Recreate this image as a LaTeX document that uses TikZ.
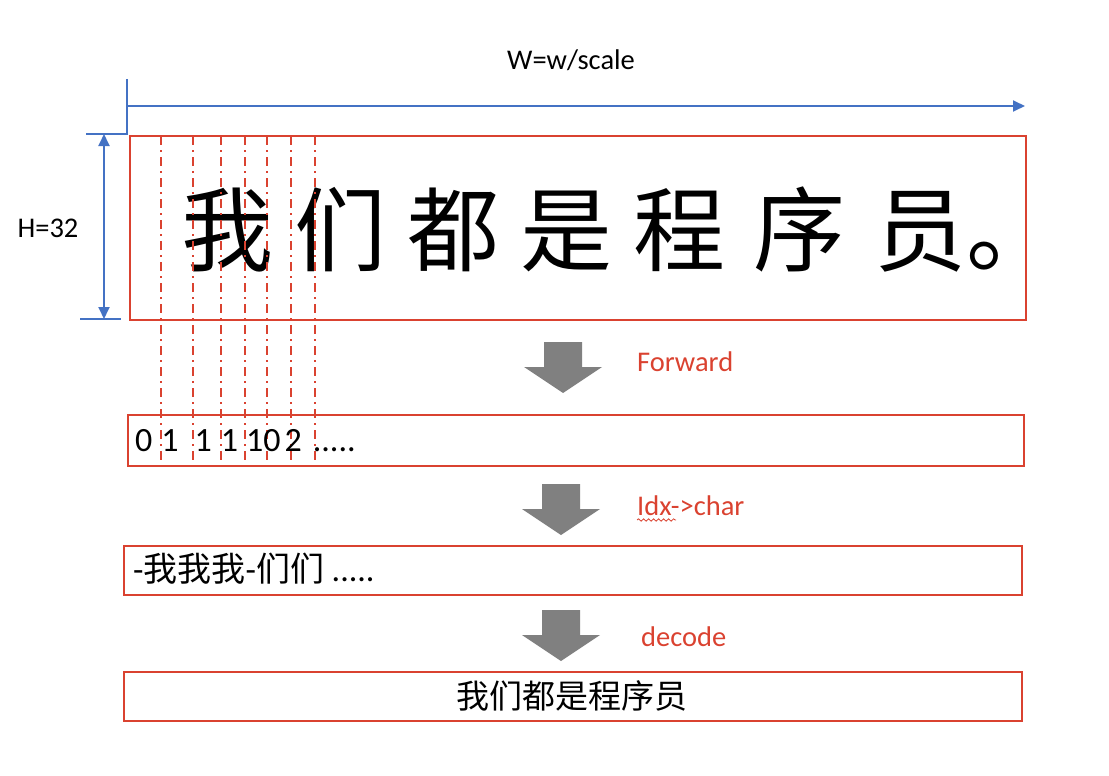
\documentclass[tikz,border=0pt]{standalone}
\usepackage{fontspec}
\setmainfont{Carlito}
\newfontfamily\cjk{Noto Sans CJK SC}
\usetikzlibrary{arrows.meta,decorations.pathmorphing}
\definecolor{myred}{RGB}{218,66,48}
\definecolor{myblue}{RGB}{68,114,196}
\definecolor{mygray}{RGB}{128,128,128}
\begin{document}
\begin{tikzpicture}[x=1pt,y=-1pt,
  redbox/.style={draw=myred,line width=1.8pt,inner sep=0pt,anchor=north west},
  blueline/.style={draw=myblue,line width=1.8pt},
  bluearrow/.style={blueline,-{Triangle[length=12pt,width=11pt]}},
  bluedouble/.style={blueline,{Triangle[length=12pt,width=11pt]}-{Triangle[length=12pt,width=11pt]}},
  guide/.style={draw=myred,line width=1.4pt,dash pattern=on 9pt off 5pt on 2pt off 5pt},
  lbl/.style={inner sep=0pt,font=\fontsize{28.5}{34}\selectfont},
  redlbl/.style={lbl,text=myred,anchor=west},
  boxtext/.style={inner sep=0pt,font=\fontsize{34}{40}\selectfont},
  downarr/.pic={\fill[mygray] (-19,0) -- (19,0) -- (19,25) -- (39,25) -- (0,51) -- (-39,25) -- (-19,25) -- cycle;}
]
\useasboundingbox (0,0) rectangle (1109,776);

% width / height marks
\coordinate (wtop) at (127,79);
\coordinate (wcorner) at (127,134);
\coordinate (wleft) at (86,134);
\coordinate (wstart) at (127,106);
\coordinate (wend) at (1025,106);
\coordinate (htop) at (104,134);
\coordinate (hbot) at (104,319);
\coordinate (hl) at (80,319);
\coordinate (hr) at (121,319);
\draw[blueline] (wtop) -- (wcorner) -- (wleft);
\draw[bluearrow] (wstart) -- (wend);
\draw[bluedouble] (htop) -- (hbot);
\draw[blueline] (hl) -- (hr);
\node[lbl] (wlabel) at (571,60) {W=w/scale};
\node[lbl] (hlabel) at (48,228) {H=32};

% boxes
\node[redbox,minimum width=896pt,minimum height=184pt] (img) at (129,135) {};
\node[redbox,minimum width=896pt,minimum height=51pt] (idx) at (127,414) {};
\node[redbox,minimum width=898pt,minimum height=49pt] (chars) at (123,545) {};
\node[redbox,minimum width=898pt,minimum height=49pt] (result) at (123,671) {};

% big sentence
\node[anchor=base west,inner sep=0pt,font={\fontsize{92}{110}\selectfont\cjk}] (sent) at (181,264)
  {我\kern21pt 们\kern21pt 都\kern21pt 是\kern21pt 程\kern28pt 序\kern29pt 员。};

% guide lines
\foreach \x in {161,193,221,245,267,291,315}
  \draw[guide] (\x,136) -- (\x,470);

% box texts
\node[boxtext,anchor=base west] (idxtext) at (135,451)
  {0\kern9pt 1\kern16pt 1\kern9pt 1\kern8pt 10\kern4pt 2\kern11pt .....};
\node[boxtext,anchor=base west] (chartext) at (133,581)
  {-{\cjk 我我我}-{\cjk 们们} .....};
\node[boxtext,font={\fontsize{33}{40}\selectfont\cjk}] (restext) at (572,696) {我们都是程序员};

% block arrows and labels
\pic at (563,342) {downarr};
\pic at (561,484) {downarr};
\pic at (561,610) {downarr};
\node[redlbl] (fwd) at (637,362) {Forward};
\node[redlbl] (i2c) at (637,506) {Idx->char};
\node[redlbl] (dec) at (641,637) {decode};
\draw[myred,line width=0.8pt,decorate,decoration={snake,amplitude=1.2pt,segment length=5pt}]
  (637,520) -- (676,520);
\end{tikzpicture}
\end{document}
